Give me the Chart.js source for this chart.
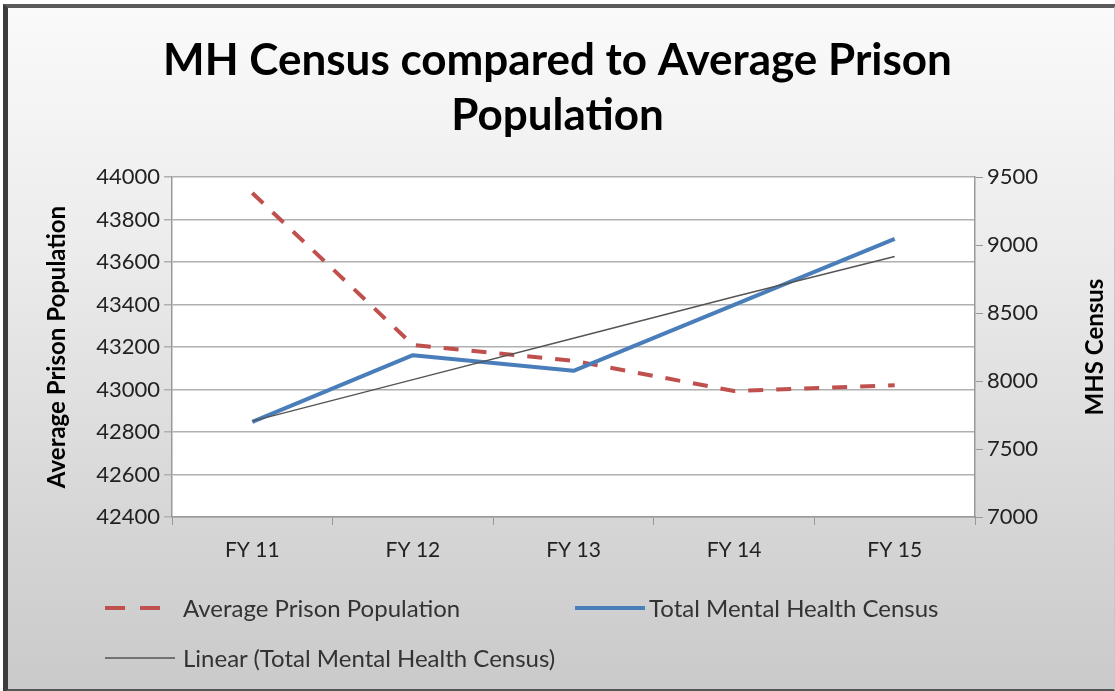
<!DOCTYPE html>
<html>
<head>
<meta charset="utf-8">
<script src="https://cdn.jsdelivr.net/npm/chart.js@4.4.1/dist/chart.umd.min.js"></script>
<style>
  body { margin: 0; background: #fff; }
  #wrap { position: relative; width: 1115px; height: 691px; overflow: hidden; }
  #frame {
    position: absolute; left: 3px; top: 4px; width: 1106px; height: 681px;
    border-top: 4px solid #5a5a5a; border-left: 5px solid #3c3c3c;
    border-bottom: 5px solid #555; border-right: 2px solid #c8c8c8;
    background: linear-gradient(to bottom, #fafafa 0%, #ececec 35%, #d6d6d6 75%, #cacaca 100%);
  }
  canvas { position: absolute; left: 0; top: 0; }
  .leg { position: absolute; font: 24px Lato, sans-serif; color: #333; white-space: nowrap; display: flex; align-items: center; }
  .leg canvas { position: static; margin-right: 6px; }
</style>
</head>
<body>
<div id="wrap">
  <div id="frame"></div>
  <canvas id="chart" width="1115" height="691"></canvas>
  <div id="legend"></div>
</div>
<script>
const categories = ['FY 11', 'FY 12', 'FY 13', 'FY 14', 'FY 15'];
const prisonPop = [43925, 43210, 43135, 42993, 43020];
const mhCensus = [7700, 8190, 8075, 8560, 9045];
const mhTrend = [7705, 8010, 8315, 8620, 8915];
const leftTicks = { min: 42400, max: 44000, step: 200 };
const rightTicks = { min: 7000, max: 9500, step: 500 };

const FONT = 'Lato';

// white plot area + right axis title reading bottom to top
const plotBg = {
  id: 'plotBg',
  beforeDraw(chart) {
    const a = chart.chartArea, c = chart.ctx;
    c.save();
    c.fillStyle = '#ffffff';
    c.fillRect(a.left, a.top, a.right - a.left, a.bottom - a.top);
    c.restore();
  },
  afterDraw(chart) {
    const a = chart.chartArea, c = chart.ctx;
    c.save();
    c.translate(1095, (a.top + a.bottom) / 2);
    c.rotate(-Math.PI / 2);
    c.font = 'bold 24px ' + FONT;
    c.fillStyle = '#000';
    c.textAlign = 'center';
    c.textBaseline = 'middle';
    c.fillText('MHS Census', 0, 0);
    c.restore();
  }
};

const chart = new Chart(document.getElementById('chart'), {
  type: 'line',
  data: {
    labels: categories,
    datasets: [
      {
        label: 'Average Prison Population',
        data: prisonPop,
        yAxisID: 'y',
        borderColor: '#c0504d',
        borderWidth: 4,
        borderDash: [15, 13],
        pointRadius: 0,
        order: 2
      },
      {
        label: 'Total Mental Health Census',
        data: mhCensus,
        yAxisID: 'y1',
        borderColor: '#4a7ebb',
        borderWidth: 4,
        borderJoinStyle: 'round',
        pointRadius: 0,
        order: 1
      },
      {
        label: 'Linear (Total Mental Health Census)',
        data: mhTrend,
        yAxisID: 'y1',
        borderColor: '#555555',
        borderWidth: 1.5,
        pointRadius: 0,
        order: 0
      }
    ]
  },
  options: {
    responsive: false,
    animation: false,
    layout: { padding: 0 },
    plugins: {
      legend: { display: false },
      tooltip: { enabled: false },
      title: {
        display: true,
        text: ['MH Census compared to Average Prison', 'Population'],
        color: '#000',
        font: { family: FONT, size: 44, weight: 'bold', lineHeight: 1.25 },
        padding: { top: 33, bottom: 34 }
      }
    },
    scales: {
      x: {
        offset: true,
        grid: { display: true, drawOnChartArea: false, tickLength: 8, color: '#999', offset: true },
        border: { color: '#999', width: 1.5 },
        ticks: { color: '#222', font: { family: FONT, size: 21 }, padding: 13 },
        afterFit(s) { s.height = 174; }
      },
      y: {
        position: 'left',
        min: leftTicks.min,
        max: leftTicks.max,
        ticks: {
          stepSize: leftTicks.step, color: '#222', font: { family: FONT, size: 22 }, padding: 4,
          callback: v => String(v)
        },
        grid: { color: '#b0b0b0', lineWidth: 1.5, tickLength: 8 },
        border: { color: '#999', width: 1.5 },
        title: {
          display: true,
          text: 'Average Prison Population',
          color: '#000',
          font: { family: FONT, size: 24, weight: 'bold' },
          padding: { top: 43, bottom: 0 }
        },
        afterFit(s) { s.width = 172; }
      },
      y1: {
        position: 'right',
        min: rightTicks.min,
        max: rightTicks.max,
        ticks: {
          stepSize: rightTicks.step, color: '#222', font: { family: FONT, size: 22 }, padding: 4,
          callback: v => String(v)
        },
        grid: { drawOnChartArea: false, color: '#999', tickLength: 8 },
        border: { color: '#999', width: 1.5 },
        afterFit(s) { s.width = 140; }
      }
    }
  },
  plugins: [plotBg]
});

// legend in two columns like the original
const legendPos = [[105, 607, 6], [575, 607, 2], [105, 657, 6]];
const legendBox = document.getElementById('legend');
chart.data.datasets.forEach((ds, i) => {
  const item = document.createElement('div');
  item.className = 'leg';
  item.style.left = legendPos[i][0] + 'px';
  item.style.top = (legendPos[i][1] - 14) + 'px';
  const sw = document.createElement('canvas');
  sw.width = 72; sw.height = 28;
  sw.style.marginRight = legendPos[i][2] + 'px';
  const c = sw.getContext('2d');
  c.strokeStyle = ds.borderColor;
  c.lineWidth = ds.borderWidth;
  if (ds.borderDash) c.setLineDash([20, 15]);
  c.beginPath(); c.moveTo(0, 14); c.lineTo(70, 14); c.stroke();
  item.appendChild(sw);
  item.appendChild(document.createTextNode(ds.label));
  legendBox.appendChild(item);
});
</script>
</body>
</html>
